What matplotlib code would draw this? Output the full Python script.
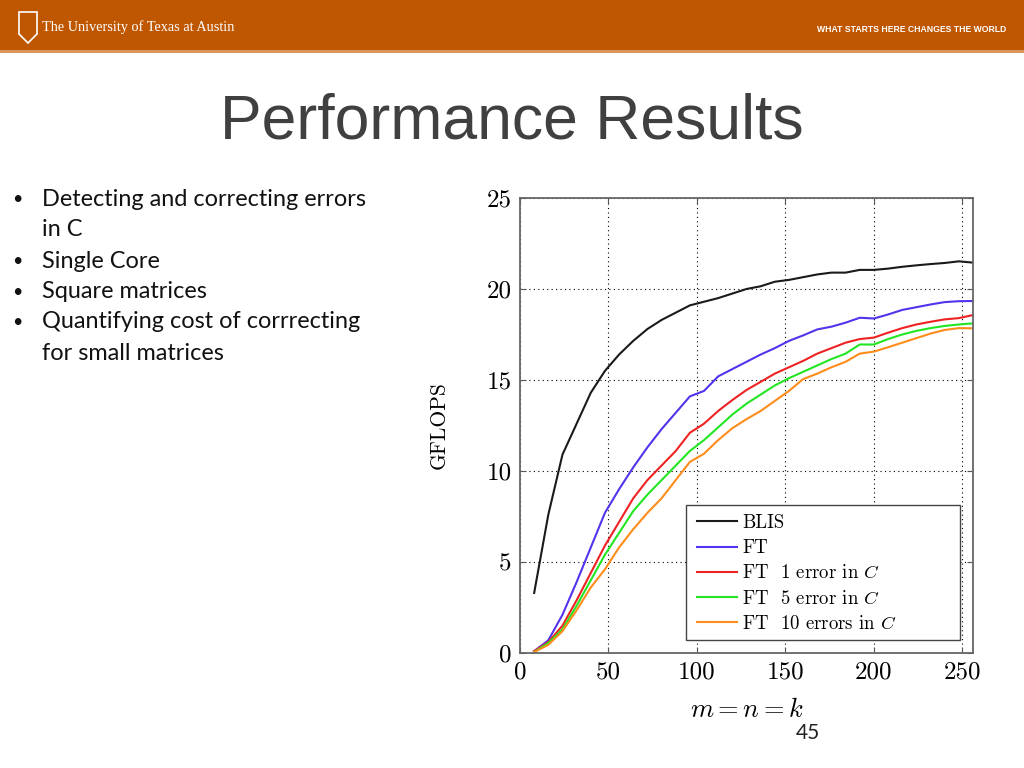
import matplotlib
matplotlib.use("Agg")
import matplotlib.pyplot as plt
from matplotlib.patches import Rectangle, Polygon

# --- data ---
sizes = [8, 16, 24, 32, 40, 48, 56, 64, 72, 80, 88, 96, 104, 112, 120, 128,
         136, 144, 152, 160, 168, 176, 184, 192, 200, 208, 216, 224, 232, 240, 248, 256]

blis = [3.3, 7.6, 10.9, 12.6, 14.3, 15.5, 16.4, 17.15, 17.8, 18.3, 18.7, 19.1,
        19.3, 19.5, 19.75, 20.0, 20.15, 20.4, 20.5, 20.65, 20.8, 20.9, 20.9, 21.05,
        21.05, 21.12, 21.22, 21.3, 21.37, 21.43, 21.52, 21.45]
ft = [0.1, 0.7, 2.1, 3.9, 5.8, 7.7, 9.0, 10.2, 11.3, 12.3, 13.2, 14.1,
      14.4, 15.2, 15.6, 16.0, 16.4, 16.75, 17.15, 17.45, 17.78, 17.93, 18.15, 18.42,
      18.38, 18.6, 18.85, 19.0, 19.15, 19.28, 19.33, 19.34]
ft_1err = [0.1, 0.6, 1.5, 2.9, 4.4, 5.9, 7.2, 8.5, 9.5, 10.3, 11.1, 12.1,
           12.6, 13.3, 13.9, 14.45, 14.9, 15.35, 15.7, 16.05, 16.45, 16.75, 17.05, 17.25,
           17.33, 17.6, 17.85, 18.05, 18.2, 18.33, 18.4, 18.57]
ft_5err = [0.05, 0.55, 1.3, 2.6, 4.0, 5.4, 6.6, 7.8, 8.7, 9.5, 10.3, 11.1,
           11.7, 12.4, 13.1, 13.7, 14.2, 14.7, 15.1, 15.45, 15.8, 16.15, 16.45, 16.95,
           16.95, 17.25, 17.5, 17.7, 17.85, 17.97, 18.05, 18.11]
ft_10err = [0.05, 0.45, 1.2, 2.35, 3.6, 4.6, 5.8, 6.8, 7.7, 8.5, 9.5, 10.5,
            10.95, 11.7, 12.35, 12.85, 13.3, 13.85, 14.4, 15.05, 15.35, 15.7, 16.0, 16.45,
            16.56, 16.8, 17.05, 17.3, 17.55, 17.75, 17.85, 17.84]

series_labels = ["BLIS", "FT", "FT  1 error in $C$", "FT  5 error in $C$", "FT  10 errors in $C$"]
series_colors = ["#1a1a1a", "#5533ee", "#ee2222", "#22e622", "#ff8c1a"]

x_ticks = [0, 50, 100, 150, 200, 250]
y_ticks = [0, 5, 10, 15, 20, 25]

bullets = ["Detecting and correcting errors", "in C", "Single Core",
           "Square matrices", "Quantifying cost of corrrecting", "for small matrices"]
bullet_marks = [True, False, True, True, True, False]

plt.rcParams["mathtext.fontset"] = "cm"

fig = plt.figure(figsize=(10.24, 7.68), dpi=100)

# --- slide decoration ---
fig.patches.append(Rectangle((0, 1 - 50 / 768), 1, 50 / 768, transform=fig.transFigure,
                             facecolor="#bf5700", edgecolor="none", zorder=0))
fig.patches.append(Rectangle((0, 1 - 53 / 768), 1, 3 / 768, transform=fig.transFigure,
                             facecolor="#d9955a", edgecolor="none", zorder=0))
# shield logo
shield = [(19, 12), (37, 12), (37, 34), (28, 43), (19, 34)]
fig.patches.append(Polygon([(px / 1024, 1 - py / 768) for px, py in shield], closed=True,
                           transform=fig.transFigure, facecolor="none",
                           edgecolor="white", linewidth=1.2))
fig.text(42 / 1024, 1 - 27 / 768, "The University of Texas at Austin", color="white",
         family="Liberation Serif", fontsize=10.3, va="center", ha="left")
fig.text(1006 / 1024, 1 - 29 / 768, "WHAT STARTS HERE CHANGES THE WORLD", color="white",
         family="Liberation Sans", fontweight="bold", fontsize=6.2, va="center", ha="right")

fig.text(512 / 1024, 1 - 122 / 768, "Performance Results", color="#404040",
         family="Liberation Sans", fontsize=45, ha="center", va="center")

line_y = [199, 230, 261, 292, 322, 353]
for txt, mark, yy in zip(bullets, bullet_marks, line_y):
    if mark:
        fig.text(12 / 1024, 1 - yy / 768, "•", fontsize=13, family="Lato", va="center", color="#111111")
    fig.text(42 / 1024, 1 - yy / 768, txt, fontsize=16.9, family="Lato", va="center", color="#111111")

fig.text(808 / 1024, 1 - 733 / 768, "45", fontsize=15, family="Lato", ha="center", va="center",
         color="#222222")

# --- chart ---
ax = fig.add_axes([520 / 1024, 1 - 653 / 768, 453 / 1024, 455 / 768])
for ys, lab, col in zip([blis, ft, ft_1err, ft_5err, ft_10err], series_labels, series_colors):
    ax.plot(sizes, ys, color=col, lw=1.5, label=lab)

ax.set_xlim(0, 256)
ax.set_ylim(0, 25)
ax.set_xticks(x_ticks)
ax.set_yticks(y_ticks)
ax.grid(True, color="black", linestyle=(0, (1, 3)), linewidth=0.8)
ax.tick_params(direction="in", top=True, right=True, length=4, width=0.8, labelsize=18,
               pad=6, colors="#555555", labelcolor="black")
for lbl in ax.get_xticklabels() + ax.get_yticklabels():
    lbl.set_fontfamily("cmr10")
for sp in ax.spines.values():
    sp.set_color("#666666")
    sp.set_linewidth(1.3)

ax.set_xlabel("$m = n = k$", fontsize=19, labelpad=10)
ax.set_ylabel("GFLOPS", fontsize=15.5, family="cmr10", labelpad=27)

# legend box (pgfplots-style fixed-width frame)
box_x0, box_y0, box_w, box_h = 0.3664, 0.0286, 0.6049, 0.2967
ax.add_patch(Rectangle((box_x0, box_y0), box_w, box_h, transform=ax.transAxes,
                       facecolor="white", edgecolor="#444444", linewidth=1.0, zorder=4))
leg = ax.legend(loc="upper left", bbox_to_anchor=(box_x0 + 0.004, box_y0 + box_h + 0.001),
                prop={"family": "cmr10", "size": 13.5}, frameon=False,
                borderaxespad=0, handlelength=2.1, handletextpad=0.3, labelspacing=0.39,
                borderpad=0.5)
leg.set_zorder(5)

fig.savefig("out.png", dpi=100)
